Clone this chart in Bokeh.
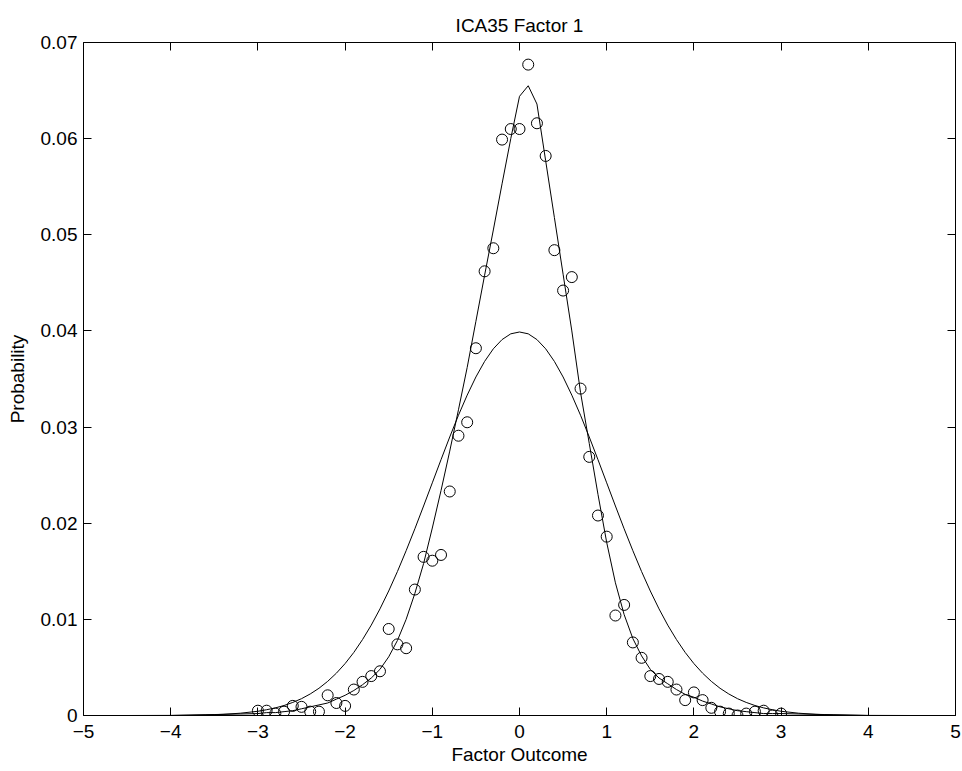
from bokeh.plotting import figure
from bokeh.models import Range1d, LinearAxis, FixedTicker, ColumnDataSource
from bokeh.embed import file_html
from bokeh.resources import INLINE

# ---- data ----
obs_x = [-3.0, -2.9, -2.8, -2.7, -2.6, -2.5, -2.4, -2.3, -2.2, -2.1, -2.0,
         -1.9, -1.8, -1.7, -1.6, -1.5, -1.4, -1.3, -1.2, -1.1, -1.0,
         -0.9, -0.8, -0.7, -0.6, -0.5, -0.4, -0.3, -0.2, -0.1, 0.0,
         0.1, 0.2, 0.3, 0.4, 0.5, 0.6, 0.7, 0.8, 0.9, 1.0,
         1.1, 1.2, 1.3, 1.4, 1.5, 1.6, 1.7, 1.8, 1.9, 2.0,
         2.1, 2.2, 2.3, 2.4, 2.5, 2.6, 2.7, 2.8, 2.9, 3.0]
obs_y = [0.0005, 0.0005, 0.0002, 0.0004, 0.0010, 0.0009, 0.0004, 0.0004, 0.0021, 0.0013, 0.0010,
         0.0027, 0.0035, 0.0041, 0.0046, 0.0090, 0.0074, 0.0070, 0.0131, 0.0165, 0.0161,
         0.0167, 0.0233, 0.0291, 0.0305, 0.0382, 0.0462, 0.0486, 0.0599, 0.0610, 0.0610,
         0.0677, 0.0616, 0.0582, 0.0484, 0.0442, 0.0456, 0.0340, 0.0269, 0.0208, 0.0186,
         0.0104, 0.0115, 0.0076, 0.0060, 0.0041, 0.0038, 0.0035, 0.0027, 0.0016, 0.0024,
         0.0016, 0.0008, 0.0004, 0.0002, 0.0000, 0.0002, 0.0004, 0.0005, 0.0000, 0.0002]

fit_x = [-5.0, -4.0, -3.5,
         -3.0, -2.9, -2.8, -2.7, -2.6, -2.5, -2.4, -2.3, -2.2, -2.1, -2.0,
         -1.9, -1.8, -1.7, -1.6, -1.5, -1.4, -1.3, -1.2, -1.1, -1.0,
         -0.9, -0.8, -0.7, -0.6, -0.5, -0.4, -0.3, -0.2, -0.1, 0.0,
         0.1, 0.2, 0.3, 0.4, 0.5, 0.6, 0.7, 0.8, 0.9, 1.0,
         1.1, 1.2, 1.3, 1.4, 1.5, 1.6, 1.7, 1.8, 1.9, 2.0,
         2.1, 2.2, 2.3, 2.4, 2.5, 2.6, 2.7, 2.8, 2.9, 3.0,
         3.5, 4.0, 5.0]
fit_y = [0.0000, 0.0000, 0.0001,
         0.0002, 0.0003, 0.0003, 0.0004, 0.0005, 0.0007, 0.0009, 0.0011, 0.0013, 0.0017, 0.0021,
         0.0026, 0.0032, 0.0039, 0.0048, 0.0061, 0.0078, 0.0100, 0.0127, 0.0158, 0.0195,
         0.0234, 0.0275, 0.0318, 0.0362, 0.0410, 0.0458, 0.0505, 0.0553, 0.0600, 0.0644,
         0.0655, 0.0636, 0.0577, 0.0518, 0.0459, 0.0400, 0.0336, 0.0283, 0.0230, 0.0180,
         0.0138, 0.0105, 0.0080, 0.0062, 0.0048, 0.0039, 0.0033, 0.0027, 0.0022, 0.0019,
         0.0015, 0.0012, 0.0009, 0.0007, 0.0005, 0.0004, 0.0003, 0.0002, 0.0002, 0.0002,
         0.0001, 0.0000, 0.0000]

norm_x = [-5.0, -4.5, -4.0, -3.8, -3.6, -3.4, -3.2, -3.0, -2.9, -2.8, -2.7, -2.6, -2.5,
          -2.4, -2.3, -2.2, -2.1, -2.0, -1.9, -1.8, -1.7, -1.6, -1.5, -1.4, -1.3,
          -1.2, -1.1, -1.0, -0.9, -0.8, -0.7, -0.6, -0.5, -0.4, -0.3, -0.2, -0.1,
          0.0, 0.1, 0.2, 0.3, 0.4, 0.5, 0.6, 0.7, 0.8, 0.9, 1.0, 1.1, 1.2, 1.3,
          1.4, 1.5, 1.6, 1.7, 1.8, 1.9, 2.0, 2.1, 2.2, 2.3, 2.4, 2.5, 2.6, 2.7,
          2.8, 2.9, 3.0, 3.2, 3.4, 3.6, 3.8, 4.0, 4.5, 5.0]
norm_y = [0.00000, 0.00000, 0.00001, 0.00003, 0.00006, 0.00012, 0.00024, 0.00044, 0.00060,
          0.00079, 0.00104, 0.00136, 0.00175, 0.00224, 0.00283, 0.00355, 0.00440, 0.00540,
          0.00656, 0.00790, 0.00940, 0.01109, 0.01295, 0.01497, 0.01714, 0.01942, 0.02179,
          0.02420, 0.02661, 0.02897, 0.03123, 0.03332, 0.03521, 0.03683, 0.03814, 0.03910,
          0.03970, 0.03989, 0.03970, 0.03910, 0.03814, 0.03683, 0.03521, 0.03332, 0.03123,
          0.02897, 0.02661, 0.02420, 0.02179, 0.01942, 0.01714, 0.01497, 0.01295, 0.01109,
          0.00940, 0.00790, 0.00656, 0.00540, 0.00440, 0.00355, 0.00283, 0.00224, 0.00175,
          0.00136, 0.00104, 0.00079, 0.00060, 0.00044, 0.00024, 0.00012, 0.00006, 0.00003,
          0.00001, 0.00000, 0.00000]

x_ticks = [-5, -4, -3, -2, -1, 0, 1, 2, 3, 4, 5]
x_tick_labels = ["\u22125", "\u22124", "\u22123", "\u22122", "\u22121", "0", "1", "2", "3", "4", "5"]
y_ticks = [0, 0.01, 0.02, 0.03, 0.04, 0.05, 0.06, 0.07]
y_tick_labels = ["0", "0.01", "0.02", "0.03", "0.04", "0.05", "0.06", "0.07"]

title_text = "ICA35 Factor 1"
x_label = "Factor Outcome"
y_label = "Probability"

FONT = "Liberation Sans"
FS = "19px"

p = figure(width=962, height=771, output_backend="svg", toolbar_location=None,
           x_range=Range1d(-5, 5), y_range=Range1d(0, 0.07),
           min_border_left=83, min_border_right=7, min_border_top=42, min_border_bottom=56)
p.title.text = title_text
p.title.align = "center"
p.title.text_font = FONT
p.title.text_font_size = FS
p.title.text_font_style = "normal"
p.title.text_color = "black"
p.title.standoff = 14
p.outline_line_color = None
p.xgrid.grid_line_color = None
p.ygrid.grid_line_color = None
p.background_fill_color = "white"
p.border_fill_color = "white"

def style_axis(ax, ticks, labels, show_labels=True):
    ax.ticker = FixedTicker(ticks=ticks)
    ax.major_tick_in = 8
    ax.major_tick_out = 0
    ax.minor_tick_in = 0
    ax.minor_tick_out = 0
    ax.axis_line_color = "black"
    ax.axis_line_width = 1
    ax.major_tick_line_color = "black"
    ax.major_tick_line_width = 1
    ax.major_label_text_font = FONT
    if show_labels:
        ax.major_label_overrides = {t: l for t, l in zip(ticks, labels)}
        ax.major_label_text_font_size = FS
        ax.major_label_text_color = "black"
    else:
        ax.major_label_text_font_size = "1px"
        ax.major_label_text_color = None
        ax.major_label_standoff = 0
    ax.axis_label_text_font = FONT
    ax.axis_label_text_font_size = FS
    ax.axis_label_text_font_style = "normal"
    ax.axis_label_text_color = "black"

xa = p.xaxis[0]
ya = p.yaxis[0]
style_axis(xa, x_ticks, x_tick_labels)
style_axis(ya, y_ticks, y_tick_labels)
xa.major_label_standoff = 9
ya.major_label_standoff = 6
xa.axis_label = x_label
ya.axis_label = y_label
xa.axis_label_standoff = 3
ya.axis_label_standoff = 10

top = LinearAxis()
style_axis(top, x_ticks, x_tick_labels, show_labels=False)
p.add_layout(top, "above")
right = LinearAxis()
style_axis(right, y_ticks, y_tick_labels, show_labels=False)
p.add_layout(right, "right")

p.line(norm_x, norm_y, line_color="black", line_width=1)
p.line(fit_x, fit_y, line_color="black", line_width=1)
src = ColumnDataSource(dict(x=obs_x, y=obs_y))
p.scatter("x", "y", source=src, marker="circle", size=11, fill_color=None,
          line_color="black", line_width=1)

open("out.html", "w").write(file_html(p, INLINE))
